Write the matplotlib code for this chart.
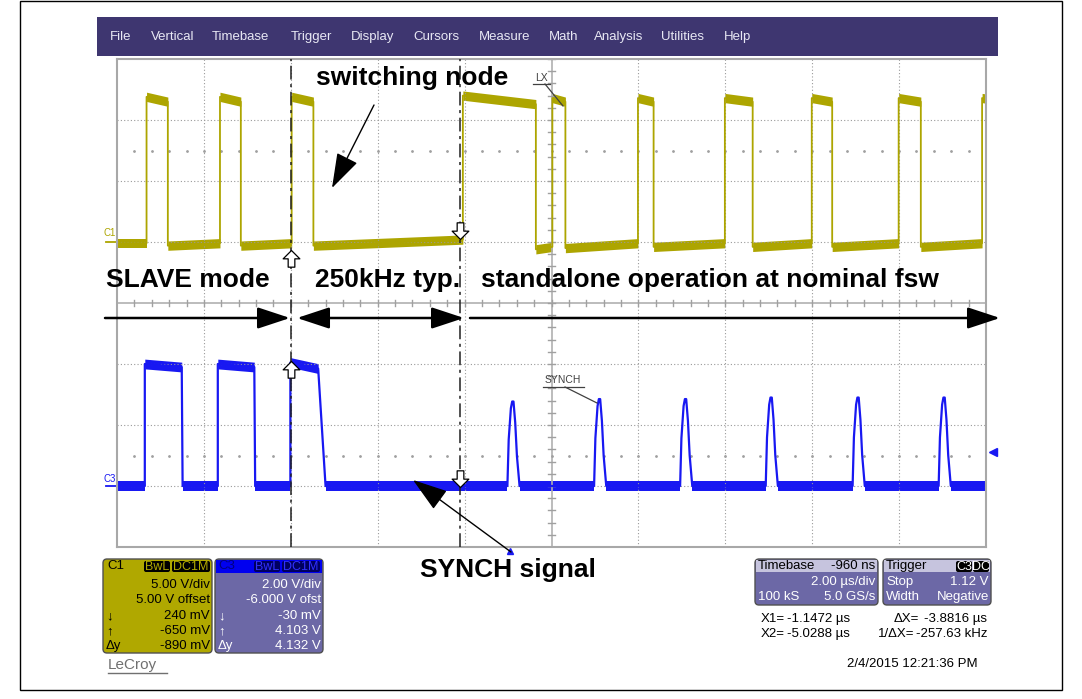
import numpy as np
import matplotlib.pyplot as plt
from matplotlib.patches import FancyBboxPatch, Rectangle
from matplotlib.path import Path

plt.rcParams['font.family'] = ['Liberation Sans', 'DejaVu Sans']

## scope settings
t_centre = 0.96          # us  (timebase delay -960 ns)
us_div = 2.0
c1_vdiv, c1_ofs = 5.0, 5.0
c3_vdiv, c3_ofs = 2.0, -6.0
cur_x1, cur_x2 = -1.1472, -5.0288
trig_level = 1.12
c1_cur = [0.24, -0.65]     # V at X1, X2
c3_cur = [-0.03, 4.103]

## C1 switching node: edges (us) and levels (V)
c1_rise = [-8.36, -6.67, -5.02, -1.08, 0.98, 2.95, 4.95, 6.95, 8.95, 10.87]
c1_fall = [-7.87, -6.19, -4.52, 0.60, 1.28, 3.31, 5.59, 7.42, 9.46, 11.50]
c1_hi_a = [11.9, 11.9, 11.9, 12.0, 11.8, 11.8, 11.8, 11.8, 11.8, 11.8]
c1_hi_b = [11.5, 11.5, 11.5, 11.3, 11.5, 11.5, 11.5, 11.5, 11.5, 11.5]
c1_lo_a = [-0.1, -0.3, -0.3, -0.3, -0.6, -0.5, -0.4, -0.4, -0.4, -0.4]
c1_lo_b = [-0.1, -0.1, -0.1, 0.2, -0.4, -0.1, -0.1, -0.1, -0.1, -0.1]
c1_noise = 0.38

## C3 SYNCH
c3_rise = [-8.40, -6.72, -5.05]
c3_fall_a = [-7.55, -5.88, -4.41]
c3_fall_b = [-7.53, -5.86, -4.24]
c3_hi_a = [4.0, 4.0, 4.05]
c3_hi_b = [3.9, 3.9, 3.85]
c3_lo = 0.0
c3_noise = 0.16
synch_t = [0.065, 2.06, 4.04, 6.01, 8.01, 9.99]
synch_pk = [2.77, 2.85, 2.85, 2.90, 2.90, 2.90]
synch_dt = [-0.12, -0.09, -0.04, -0.01, 0.02, 0.06, 0.10, 0.16]
synch_fr = [0.0, 0.55, 0.92, 1.0, 1.0, 0.75, 0.35, 0.0]

menu_items = ["File", "Vertical", "Timebase", "Trigger", "Display", "Cursors",
              "Measure", "Math", "Analysis", "Utilities", "Help"]
menu_x = [110, 151, 212, 291, 351, 413, 479, 549, 594, 661, 724]

yel = '#ADA500'
blu = '#1818F2'
purple = '#6C68A6'

W, H = 1082, 699
fig = plt.figure(figsize=(W / 100, H / 100), dpi=100)

sx0, sx1, sy0, sy1 = 117, 986, 59, 547
ax = fig.add_axes([sx0 / W, 1 - sy1 / H, (sx1 - sx0) / W, (sy1 - sy0) / H])
ov = fig.add_axes([0, 0, 1, 1])
ov.set_xlim(0, W)
ov.set_ylim(H, 0)
ov.axis('off')
ov.patch.set_alpha(0)
ov.set_zorder(3)

t_left, t_right = t_centre - 5 * us_div, t_centre + 5 * us_div
ax.set_xlim(t_left, t_right)
ax.set_ylim(-4, 4)
ax.set_xticks([])
ax.set_yticks([])
for s in ax.spines.values():
    s.set_color('#a8a8a8')
    s.set_linewidth(1.5)

def c1d(v):
    return (np.asarray(v) + c1_ofs) / c1_vdiv

def c3d(v):
    return (np.asarray(v) + c3_ofs) / c3_vdiv

## graticule
gcol = '#9a9a9a'
for k in range(1, 10):
    x = t_left + k * us_div
    if k == 5:
        ax.axvline(x, color='#b0b0b0', lw=1.2)
    else:
        ax.axvline(x, color=gcol, lw=0.8, ls=(0, (1, 2)))
for k in range(-3, 4):
    if k == 0:
        ax.axhline(0, color='#b0b0b0', lw=1.2)
    else:
        ax.axhline(k, color=gcol, lw=0.8, ls=(0, (1, 2)))
minor_t = t_left + 0.4 * np.arange(1, 50)
for x in minor_t:
    ax.plot([x, x], [-0.05, 0.05], color='#a0a0a0', lw=1)
minor_y = np.arange(-4, 4.01, 0.2)
for y in minor_y:
    ax.plot([t_centre - 0.07, t_centre + 0.07], [y, y], color='#a0a0a0', lw=1)
for y in (2.5, -2.5):
    ax.plot(minor_t, np.full(len(minor_t), y), ls='none', marker='o',
            ms=1.0, color='#a0a0a0')

def band(ts, vs, n, conv, col):
    lo = conv(np.array(vs) - n)
    hi = conv(np.array(vs) + n)
    ax.fill_between(ts, lo, hi, color=col, lw=0)

## C1 trace
c1_t, c1_v, c1_flat = [], [], []
prev = t_left
for r, f, la, lb, ha, hb in zip(c1_rise, c1_fall, c1_lo_a, c1_lo_b, c1_hi_a, c1_hi_b):
    c1_t += [prev, r, r, f]
    c1_v += [la, lb, ha, hb]
    c1_flat += [((prev, r), (la, lb)), ((r, f), (ha, hb))]
    prev = f
ax.plot(c1_t, c1d(c1_v), color=yel, lw=1.3)
for ts, vs in c1_flat:
    band(ts, vs, c1_noise, c1d, yel)

## C3 trace
c3_t, c3_v, c3_flat = [], [], []
prev = t_left
for r, fa, fb, ha, hb in zip(c3_rise, c3_fall_a, c3_fall_b, c3_hi_a, c3_hi_b):
    c3_t += [prev, r, r, fa, fb]
    c3_v += [c3_lo, c3_lo, ha, hb, c3_lo]
    c3_flat += [((prev, r), (c3_lo, c3_lo)), ((r, fa), (ha, hb))]
    prev = fb
for tp, pk in zip(synch_t, synch_pk):
    c3_flat.append(((prev, tp + synch_dt[0]), (c3_lo, c3_lo)))
    for dt, fr in zip(synch_dt, synch_fr):
        c3_t.append(tp + dt)
        c3_v.append(c3_lo + fr * (pk - c3_lo))
    prev = tp + synch_dt[-1]
c3_t.append(t_right)
c3_v.append(c3_lo)
c3_flat.append(((prev, t_right), (c3_lo, c3_lo)))
ax.plot(c3_t, c3d(c3_v), color=blu, lw=1.6)
for ts, vs in c3_flat:
    band(ts, vs, c3_noise, c3d, blu)

## cursors
for xc in (cur_x2, cur_x1):
    ax.axvline(xc, color='#202020', lw=1.1, ls=(0, (9, 3, 2, 3)), zorder=5)

arrow_up = Path([(0, 0), (0.5, -0.5), (0.2, -0.5), (0.2, -1), (-0.2, -1),
                 (-0.2, -0.5), (-0.5, -0.5), (0, 0)],
                [Path.MOVETO] + [Path.LINETO] * 6 + [Path.CLOSEPOLY])
arrow_dn = Path(arrow_up.vertices * [1, -1], arrow_up.codes)
ax.plot(cur_x1, c1d(c1_cur[0]), marker=arrow_dn, ms=24, mfc='white', mec='k', mew=0.9, zorder=6)
ax.plot(cur_x2, c1d(c1_cur[1]), marker=arrow_up, ms=24, mfc='white', mec='k', mew=0.9, zorder=6)
ax.plot(cur_x1, c3d(c3_cur[0]), marker=arrow_dn, ms=24, mfc='white', mec='k', mew=0.9, zorder=6)
ax.plot(cur_x2, c3d(c3_cur[1]), marker=arrow_up, ms=24, mfc='white', mec='k', mew=0.9, zorder=6)

## channel ground markers, trigger markers
ax.plot([t_left - 0.25, t_left], [c1d(0)] * 2, color=yel, lw=1.3, clip_on=False)
ax.plot([t_left - 0.25, t_left], [c3d(0)] * 2, color=blu, lw=1.3, clip_on=False)
ov.text(103, 233, "C1", color=yel, fontsize=7, va='center')
ov.text(103, 479, "C3", color=blu, fontsize=7, va='center')
ax.plot(t_right + 0.16, c3d(trig_level), marker='<', ms=6, color=blu, clip_on=False)
ax.plot(0, -4.07, marker='^', ms=5, color=blu, clip_on=False)

## menu bar
ov.add_patch(Rectangle((97, 17), 901, 39, fc='#3E3670', ec='none'))
for name, x in zip(menu_items, menu_x):
    ov.text(x, 37, name, color='#e8e8f4', fontsize=9.5, va='center')

## annotations
big = dict(fontsize=19, fontweight='bold', color='k', va='baseline')
ov.text(316, 85, "switching node", **big)
ov.text(106, 287, "SLAVE mode", **big)
ov.text(315, 287, "250kHz typ.", **big)
ov.text(481, 287, "standalone operation at nominal fsw", **big)
ov.text(420, 577, "SYNCH signal", **big)

hst = '-|>,head_length=1.0,head_width=0.33'
ov.annotate('', xy=(290, 318), xytext=(105, 318),
            arrowprops=dict(arrowstyle=hst, mutation_scale=20, lw=1.8, color='k', shrinkA=0, shrinkB=0))
ov.annotate('', xy=(464, 318), xytext=(297, 318),
            arrowprops=dict(arrowstyle='<|-|>,head_length=1.0,head_width=0.33', mutation_scale=20,
                            lw=1.8, color='k', shrinkA=0, shrinkB=0))
ov.annotate('', xy=(1000, 318), xytext=(470, 318),
            arrowprops=dict(arrowstyle=hst, mutation_scale=20, lw=1.8, color='k', shrinkA=0, shrinkB=0))
sst = '-|>,head_length=1.1,head_width=0.36'
ov.annotate('', xy=(332, 188), xytext=(374, 105),
            arrowprops=dict(arrowstyle=sst, mutation_scale=20, lw=1.0, color='k', shrinkA=0, shrinkB=0))
ov.annotate('', xy=(413, 480), xytext=(511, 552),
            arrowprops=dict(arrowstyle=sst, mutation_scale=20, lw=1.0, color='k', shrinkA=0, shrinkB=0))

## small trace labels
ov.text(541, 78, "LX", fontsize=7.5, color='#404040', ha='center', va='center')
ov.plot([533, 550], [84, 84], color='#404040', lw=0.9)
ov.plot([545, 563], [84, 106], color='#404040', lw=0.9)
ov.text(563, 380, "SYNCH", fontsize=7.5, color='#404040', ha='center', va='center')
ov.plot([543, 584], [387, 387], color='#404040', lw=0.9)
ov.plot([565, 597], [387, 403], color='#404040', lw=0.9)

## readout panels
def panel(x, y, w, h, fc):
    ov.add_patch(FancyBboxPatch((x, y), w, h, boxstyle='round,pad=0,rounding_size=4',
                                fc=fc, ec='#505050', lw=1))

def badge(x, y, w, h, s, fc, tc):
    ov.add_patch(FancyBboxPatch((x, y), w, h, boxstyle='round,pad=0,rounding_size=2',
                                fc=fc, ec='none'))
    ov.text(x + w / 2, y + h / 2 + 0.5, s, fontsize=9, color=tc, ha='center', va='center')

def txt(x, y, s, c='k', ha='left'):
    ov.text(x, y, s, fontsize=9.5, color=c, ha=ha, va='center')

panel(103, 559, 109, 94, '#B0A800')
txt(107, 566, "C1")
badge(144, 561, 26, 11, "BwL", 'k', '#B0A800')
badge(172, 561, 38, 11, "DC1M", 'k', '#B0A800')
rows_y = [585, 600, 616, 631, 646]
for y, s in zip(rows_y, ["5.00 V/div", "5.00 V offset", "240 mV", "-650 mV", "-890 mV"]):
    txt(210, y, s, ha='right')
for y, s in zip(rows_y[2:], ["↓", "↑", "Δy"]):
    txt(106, y, s)

panel(215, 559, 108, 94, purple)
ov.add_patch(Rectangle((216, 560), 106, 13, fc='#0000F0', ec='none'))
txt(218, 566, "C3", c='#000080')
badge(254, 561, 26, 11, "BwL", '#000060', '#3030ff')
badge(282, 561, 38, 11, "DC1M", '#000060', '#3030ff')
for y, s in zip(rows_y, ["2.00 V/div", "-6.000 V ofst", "-30 mV", "4.103 V", "4.132 V"]):
    txt(321, y, s, c='white', ha='right')
for y, s in zip(rows_y[2:], ["↓", "↑", "Δy"]):
    txt(218, y, s, c='white')

ov.text(108, 665, "LeCroy", fontsize=11, color='#707070', va='center')
ov.plot([108, 167], [673, 673], color='#707070', lw=1)

panel(755, 559, 123, 46, purple)
ov.add_patch(Rectangle((756, 560), 121, 12, fc='#C6C4DE', ec='none'))
txt(758, 566, "Timebase")
txt(875, 566, "-960 ns", ha='right')
txt(875, 582, "2.00 µs/div", c='white', ha='right')
txt(758, 597, "100 kS", c='white')
txt(875, 597, "5.0 GS/s", c='white', ha='right')

panel(883, 559, 108, 46, purple)
ov.add_patch(Rectangle((884, 560), 106, 12, fc='#C6C4DE', ec='none'))
txt(886, 566, "Trigger")
badge(956, 561, 16, 11, "C3", 'k', 'white')
badge(973, 561, 16, 11, "DC", 'k', 'white')
txt(886, 582, "Stop", c='white')
txt(989, 582, "1.12 V", c='white', ha='right')
txt(886, 597, "Width", c='white')
txt(989, 597, "Negative", c='white', ha='right')

txt(761, 619, "X1=")
txt(850, 619, "-1.1472 µs", ha='right')
txt(894, 619, "ΔX=")
txt(987, 619, "-3.8816 µs", ha='right')
txt(761, 634, "X2=")
txt(850, 634, "-5.0288 µs", ha='right')
txt(878, 634, "1/ΔX=")
txt(987, 634, "-257.63 kHz", ha='right')
txt(978, 664, "2/4/2015 12:21:36 PM", ha='right')

## outer frame
ov.add_patch(Rectangle((20, 1), 1042, 689, fc='none', ec='k', lw=1))

fig.savefig('out.png', dpi=100)
